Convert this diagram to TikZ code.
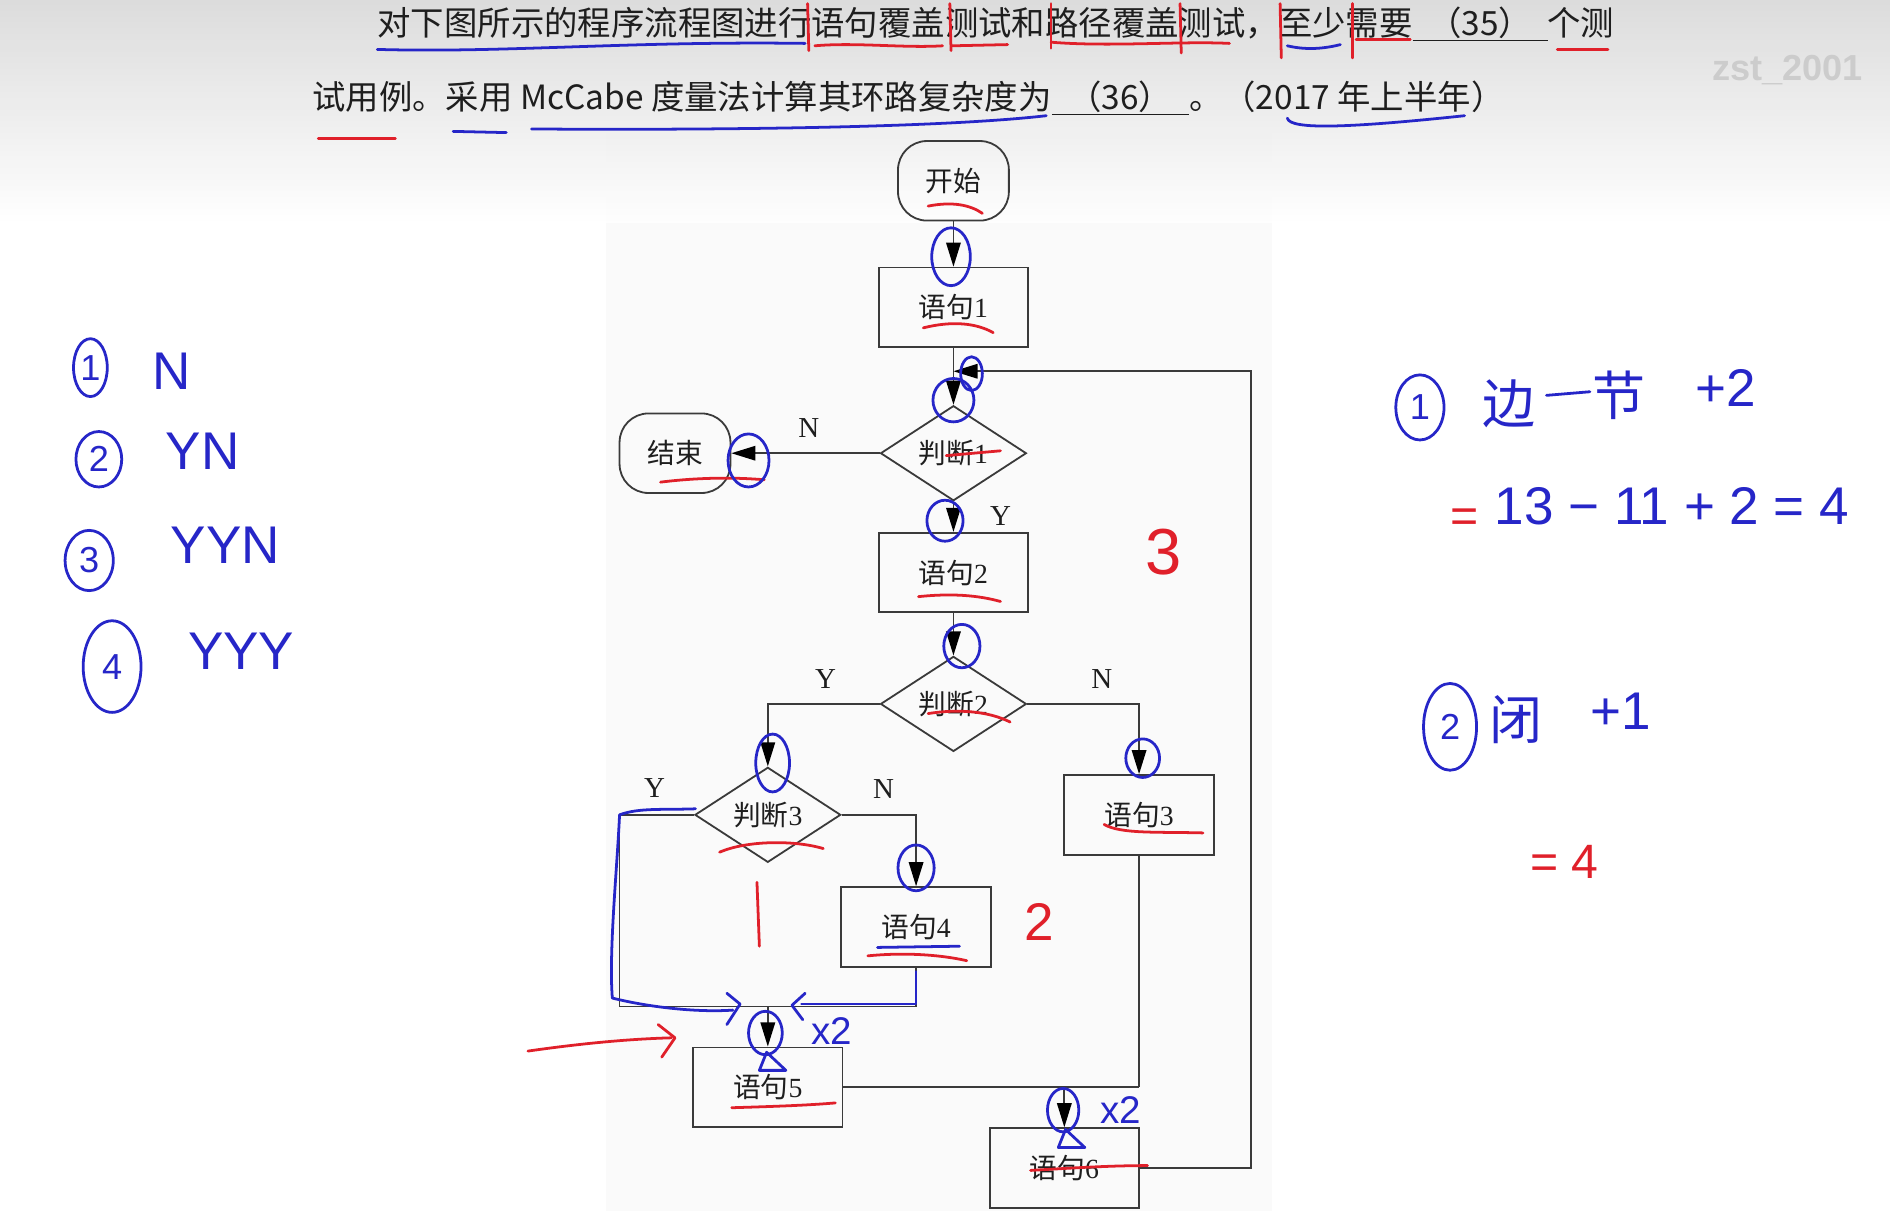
\documentclass[tikz,border=0pt]{standalone}
\usepackage{fontspec}
\setmainfont{Liberation Serif}
\newfontfamily\cjk{Noto Sans CJK SC}
\newfontfamily\hand{Liberation Sans}
\usetikzlibrary{arrows.meta,shapes.geometric}
\definecolor{pblue}{HTML}{2626C8}
\definecolor{pred}{HTML}{E0202A}
\definecolor{fline}{HTML}{3A3A3A}
\definecolor{qtxt}{HTML}{1E1E1E}
\newcommand{\qblank}[2]{\underline{\makebox[#1]{#2}}}
\begin{document}
\begin{tikzpicture}[x=1pt,y=-1pt,
  qtext/.style={anchor=west,inner sep=0,text=qtxt,font=\cjk\fontsize{27.7}{34}\selectfont},
  boxn/.style={draw=fline,line width=1.5pt,rectangle,minimum width=124pt,minimum height=66pt,inner sep=0,font=\fontsize{23}{26}\selectfont,text=qtxt},
  term/.style={draw=fline,line width=1.5pt,rectangle,rounded corners=24pt,minimum width=92pt,minimum height=66pt,inner sep=0,font=\fontsize{23}{26}\selectfont,text=qtxt},
  dec/.style={draw=fline,line width=1.5pt,diamond,minimum width=121pt,minimum height=67pt,inner sep=0,font=\fontsize{23}{26}\selectfont,text=qtxt},
  lbl/.style={inner sep=0,font=\fontsize{24}{28}\selectfont,text=qtxt},
  flow/.style={draw=fline,line width=1.5pt},
  arr/.style={flow,-{Triangle[length=20pt,width=12pt,color=black]}},
  pen/.style={line width=2.3pt,line cap=round,line join=round},
  bpen/.style={pen,draw=pblue},
  rpen/.style={pen,draw=pred},
  htxt/.style={inner sep=0,font=\hand\fontsize{44}{50}\selectfont},
  cnum/.style={draw=pblue,line width=2.3pt,ellipse,inner sep=0,text=pblue,font=\hand\fontsize{30}{34}\selectfont}
]
\useasboundingbox (0,0) rectangle (1568,1012);
\fill[white] (0,0) rectangle (1568,1012);
% flowchart image background
\fill[gray!4] (503,110) rectangle (1055,1005);
% top gradient band
\shade[top color=gray!30, bottom color=white, opacity=0.9] (0,0) rectangle (1568,185);

% watermark
\node[inner sep=0,text=gray!40,font=\hand\bfseries\fontsize{30}{34}\selectfont] (wm) at (1483,58) {zst\_2001};

% question text
\node[qtext] (q1) at (313,20) {对下图所示的程序流程图进行语句覆盖测试和路径覆盖测试，至少需要\qblank{112pt}{（35）}个测};
\node[qtext] (q2) at (259,81) {试用例。采用 McCabe 度量法计算其环路复杂度为\qblank{114pt}{（36）}。（2017 年上半年）};

% flowchart nodes
\node[term] (start) at (791,150) {{\cjk 开始}};
\node[boxn] (s1) at (791,255) {{\cjk 语句}1};
\node[dec] (d1) at (791,376) {{\cjk 判断}1};
\node[term] (end) at (560,376) {{\cjk 结束}};
\node[boxn] (s2) at (791,475) {{\cjk 语句}2};
\node[dec] (d2) at (791,584) {{\cjk 判断}2};
\node[dec] (d3) at (637,676) {{\cjk 判断}3};
\node[boxn] (s3) at (945,676) {{\cjk 语句}3};
\node[boxn] (s4) at (760,769) {{\cjk 语句}4};
\node[boxn] (s5) at (637,902) {{\cjk 语句}5};
\node[boxn] (s6) at (883,969) {{\cjk 语句}6};

% branch labels
\node[lbl] (n1) at (671,355) {N};
\node[lbl] (y1) at (830,428) {Y};
\node[lbl] (y2) at (685,563) {Y};
\node[lbl] (n2) at (914,563) {N};
\node[lbl] (y3) at (543,654) {Y};
\node[lbl] (n3) at (733,655) {N};

% junction coordinates
\coordinate (j1) at (791,308);
\coordinate (r1) at (1038,308);
\coordinate (r2) at (1038,969);
\coordinate (l3) at (514,676);
\coordinate (l3b) at (514,835);
\coordinate (m5) at (637,835);
\coordinate (c6) at (945,902);
\coordinate (m6) at (883,902);

% connectors
\draw[arr] (start) -- (s1);
\draw[arr] (s1) -- (d1);
\draw[arr] (d1) -- (end);
\draw[arr] (d1) -- (s2);
\draw[arr] (s2) -- (d2);
\draw[arr] (d2.west) -| (d3.north);
\draw[arr] (d2.east) -| (s3.north);
\draw[arr] (d3.east) -| (s4.north);
\draw[flow] (d3.west) -- (l3) -- (l3b) -- (m5);
\draw[flow] (s4.south) |- (m5);
\draw[arr] (m5) -- (s5.north);
\draw[flow] (s5.east) -- (c6);
\draw[flow] (s3.south) -- (c6);
\draw[arr] (m6) -- (s6.north);
\draw[arr] (s6.east) -- (r2) -- (r1) -- (j1);

% ---------- handwriting: question underlines ----------
\draw[bpen] (313,41) .. controls (420,44) and (520,34) .. (668,36);
\draw[rpen] (676,38) .. controls (710,35) and (750,40) .. (782,38);
\draw[rpen] (790,38) -- (836,37);
\draw[rpen] (872,35) .. controls (920,39) and (980,34) .. (1020,36);
\draw[bpen] (1068,38) .. controls (1085,42) and (1100,40) .. (1112,37);
\draw[rpen] (1125,33) -- (1170,33);
\draw[rpen] (1292,41) -- (1334,41);
\draw[rpen] (670,3) -- (671,42);
\draw[rpen] (788,3) -- (789,42);
\draw[rpen] (872,3) -- (872,40);
\draw[rpen] (979,3) -- (980,44);
\draw[rpen] (1062,3) -- (1063,48);
\draw[rpen] (1122,3) -- (1122,48);
\draw[rpen] (264,115) -- (328,115);
\draw[bpen] (376,109) -- (420,110);
\draw[bpen] (441,107) .. controls (600,108) and (780,106) .. (868,96);
\draw[bpen] (1068,98) .. controls (1070,108) and (1120,106) .. (1215,96);

% ---------- handwriting: label underlines ----------
\draw[rpen] (770,171) .. controls (790,167) and (805,170) .. (815,177);
\draw[rpen] (766,272) .. controls (790,266) and (810,268) .. (824,276);
\draw[rpen] (785,378) -- (830,374);
\draw[rpen] (548,400) .. controls (580,396) and (610,396) .. (634,398);
\draw[rpen] (762,495) .. controls (790,492) and (812,494) .. (830,499);
\draw[rpen] (770,592) .. controls (795,588) and (820,590) .. (838,599);
\draw[rpen] (597,707) .. controls (620,697) and (660,697) .. (683,704);
\draw[rpen] (916,684) .. controls (930,692) and (960,690) .. (998,691);
\draw[bpen] (728,786) -- (796,785);
\draw[rpen] (720,793) .. controls (750,790) and (780,792) .. (802,797);
\draw[rpen] (607,919) .. controls (640,918) and (670,917) .. (693,915);
\draw[rpen] (855,971) .. controls (890,969) and (920,967) .. (952,967);

% ---------- handwriting: circles round arrowheads ----------
\draw[bpen] (789,213) ellipse [x radius=16, y radius=24];
\draw[bpen] (806,310) ellipse [x radius=9, y radius=14];
\draw[bpen] (791,332) ellipse [x radius=17, y radius=18];
\draw[bpen] (621,382) ellipse [x radius=17, y radius=22];
\draw[bpen] (784,432) ellipse [x radius=15, y radius=17];
\draw[bpen] (798,536) ellipse [x radius=15, y radius=18];
\draw[bpen] (641,633) ellipse [x radius=14, y radius=24];
\draw[bpen] (948,629) ellipse [x radius=14, y radius=16];
\draw[bpen] (760,720) ellipse [x radius=15, y radius=19];
\draw[bpen] (635,857) ellipse [x radius=14, y radius=18];
\draw[bpen] (882,921) ellipse [x radius=13, y radius=18];
\draw[bpen] (636,873) -- (630,888) -- (652,888) -- cycle;
\draw[bpen] (884,937) -- (878,952) -- (900,952) -- cycle;

% blue trace of the Y path of 判断3
\draw[bpen] (577,671) .. controls (550,672) and (530,670) .. (514,676) .. controls (512,720) and (505,790) .. (508,828) .. controls (540,836) and (580,840) .. (608,838);
\draw[bpen] (603,824) -- (614,833) -- (603,850);
\draw[bpen] (760,806) -- (760,833) -- (665,833);
\draw[bpen] (668,824) -- (657,834) -- (666,846);
\node[inner sep=0,text=pblue,font=\hand\fontsize{32}{36}\selectfont] (x2a) at (690,855) {x2};
\node[inner sep=0,text=pblue,font=\hand\fontsize{32}{36}\selectfont] (x2b) at (930,921) {x2};

% red marks in the flowchart
\node[inner sep=0,text=pred,font=\hand\fontsize{54}{60}\selectfont] (r3) at (965,458) {3};
\draw[rpen] (628,732) -- (630,785);
\node[inner sep=0,text=pred,font=\hand\fontsize{44}{50}\selectfont] (r2t) at (862,765) {2};
\coordinate (ra0) at (438,872);
\coordinate (ra1) at (557,861);
\draw[rpen] (ra0) .. controls (480,866) and (520,862) .. (ra1);
\draw[rpen] (546,850) -- (560,861) -- (549,877);

% ---------- handwriting: left list ----------
\node[cnum,minimum width=28pt,minimum height=48pt] (c1) at (75,305) {1};
\node[htxt,text=pblue] (t1) at (142,308) {N};
\node[cnum,minimum width=38pt,minimum height=46pt] (c2) at (82,381) {2};
\node[htxt,text=pblue] (t2) at (168,374) {YN};
\node[cnum,minimum width=40pt,minimum height=50pt] (c3) at (74,465) {3};
\node[htxt,text=pblue] (t3) at (187,452) {YYN};
\node[cnum,minimum width=48pt,minimum height=76pt] (c4) at (93,553) {4};
\node[htxt,text=pblue] (t4) at (200,540) {YYY};

% ---------- handwriting: right side ----------
\node[cnum,minimum width=40pt,minimum height=54pt] (c5) at (1178,338) {1};
\node[htxt,text=pblue,font=\cjk\fontsize{44}{50}\selectfont] (bian) at (1252,335) {边};
\draw[bpen] (1283,328) -- (1319,325);
\node[htxt,text=pblue,font=\cjk\fontsize{44}{50}\selectfont] (jie) at (1343,328) {节};
\node[htxt,text=pblue] (p2) at (1432,322) {+2};
\node[htxt,text=pred,font=\hand\fontsize{40}{46}\selectfont] (eq1) at (1215,432) {=};
\node[htxt,text=pblue,anchor=west] (calc) at (1240,420) {13 − 11 + 2 = 4};
\node[cnum,minimum width=44pt,minimum height=72pt] (c6) at (1203,603) {2};
\node[htxt,text=pblue,font=\cjk\fontsize{44}{50}\selectfont] (bi) at (1258,597) {闭};
\node[htxt,text=pblue] (p1) at (1345,590) {+1};
\node[htxt,text=pred,font=\hand\fontsize{40}{46}\selectfont] (res) at (1298,715) {= 4};
\end{tikzpicture}
\end{document}
